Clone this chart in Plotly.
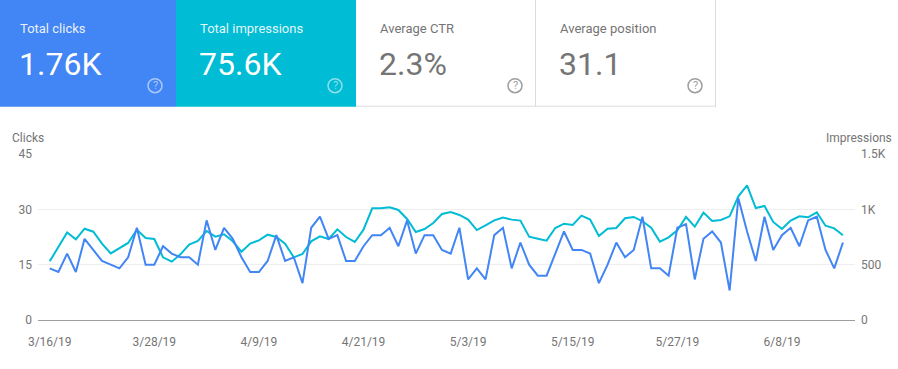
import plotly.graph_objects as go
import pandas as pd

start_date = "2019-03-16"
clicks = [14,13,18,13,22,19,16,15,14,17,25,15,15,20,18,17,17,15,27,19,25,22,17,13,13,16,23,16,17,10,
          25,28,22,23,16,16,20,23,23,25,20,27,18,23,23,19,18,25,11,14,11,23,25,14,21,15,12,12,18,24,19,19,18,10,
          15,21,17,19,28,14,14,12,25,26,11,22,24,21,8,33,24,16,28,19,23,25,20,27,28,19,14,21]
impressions = [530,665,790,729,825,798,690,602,648,696,816,741,732,566,527,593,681,714,804,753,774,711,617,690,720,771,750,690,566,596,
               711,756,732,819,750,705,816,1009,1009,1018,994,913,795,822,876,958,976,949,907,813,855,900,925,907,898,753,735,717,831,870,858,943,907,759,
               825,831,919,931,892,834,708,747,810,931,843,970,895,904,937,1117,1217,1012,1030,886,822,898,937,928,973,852,828,765]
dates = pd.date_range(start_date, periods=len(clicks))

x_tick_vals = ["2019-03-16","2019-03-28","2019-04-09","2019-04-21","2019-05-03","2019-05-15","2019-05-27","2019-06-08"]
x_tick_text = ["3/16/19","3/28/19","4/9/19","4/21/19","5/3/19","5/15/19","5/27/19","6/8/19"]
click_ticks = [0,15,30,45]
click_tick_text = ["0","15","30","45"]
imp_ticks = [0,500,1000,1500]
imp_tick_text = ["0","500","1K","1.5K"]

card_titles = ["Total clicks","Total impressions","Average CTR","Average position"]
card_values = ["1.76K","75.6K","2.3%","31.1"]
card_edges = [(0,176),(176,356),(356,536),(536,716)]
card_text_x = [18,198,378,558]
card_fills = ["#4285f4","#00bcd4","#ffffff","#ffffff"]

W, H = 898, 369
BLUE, TEAL, GREY = "#4285f4", "#00bcd4", "#757575"
L, R, T, B = 38, 855, 154.3, 320.3

fig = go.Figure()
fig.add_trace(go.Scatter(x=dates, y=impressions, mode="lines", yaxis="y", line=dict(color=TEAL, width=2), hoverinfo="skip"))
fig.add_trace(go.Scatter(x=dates, y=clicks, mode="lines", yaxis="y2", line=dict(color=BLUE, width=2), hoverinfo="skip"))

px = lambda v: (v - L) / (R - L)
py = lambda v: (B - v) / (B - T)
shapes, ann = [], []
for i, ((a, b), tx, fill, title, val) in enumerate(zip(card_edges, card_text_x, card_fills, card_titles, card_values)):
    colored = i < 2
    shapes.append(dict(type="rect", xref="paper", yref="paper", layer="below", x0=px(a), x1=px(b), y0=py(107), y1=py(0),
                       fillcolor=fill, line=dict(width=0)))
    if not colored:
        shapes.append(dict(type="line", xref="paper", yref="paper", x0=px(a), x1=px(b), y0=py(106.5), y1=py(106.5), line=dict(color="#dadce0", width=1)))
        shapes.append(dict(type="line", xref="paper", yref="paper", x0=px(b-0.5), x1=px(b-0.5), y0=py(107), y1=py(0), line=dict(color="#dadce0", width=1)))
    title_col = "rgba(255,255,255,0.9)" if colored else GREY
    val_col = "#ffffff" if colored else GREY
    ann.append(dict(text=title, x=px(tx), y=py(29), xref="paper", yref="paper", xanchor="left", yanchor="middle", showarrow=False,
                    font=dict(family="Roboto", size=13, color=title_col)))
    ann.append(dict(text=val, x=px(tx-1), y=py(64.5), xref="paper", yref="paper", xanchor="left", yanchor="middle", showarrow=False,
                    font=dict(family="Roboto", size=32, color=val_col)))
    cx, cy = b - 21, 86
    icon = "rgba(255,255,255,0.55)" if colored else "#9e9e9e"
    shapes.append(dict(type="circle", xref="paper", yref="paper", x0=px(cx-7), x1=px(cx+7), y0=py(cy+7), y1=py(cy-7),
                       line=dict(color=icon, width=1.5)))
    ann.append(dict(text="?", x=px(cx), y=py(cy), xref="paper", yref="paper", xanchor="center", yanchor="middle", showarrow=False,
                    font=dict(family="Roboto", size=11, color=icon)))

ann.append(dict(text="Clicks", x=px(10), y=py(138.5), xref="paper", yref="paper", xanchor="left", yanchor="middle", showarrow=False,
                font=dict(family="Roboto", size=12, color=GREY)))
ann.append(dict(text="Impressions", x=px(894), y=py(138.5), xref="paper", yref="paper", xanchor="right", yanchor="middle", showarrow=False,
                font=dict(family="Roboto", size=12, color=GREY)))

day_px = 8.717
first = pd.Timestamp(start_date)
x0 = first - pd.Timedelta(days=(49.7 - L) / day_px)
x1 = first + pd.Timedelta(days=(R - 49.7) / day_px)

fig.update_layout(
    width=W, height=H, autosize=False,
    margin=dict(l=L, r=W-R, t=T, b=H-B, pad=0),
    paper_bgcolor="#ffffff", plot_bgcolor="#ffffff", showlegend=False,
    font=dict(family="Roboto", size=12, color=GREY),
    shapes=shapes, annotations=ann,
    xaxis=dict(type="date", range=[x0, x1], tickmode="array", tickvals=x_tick_vals, ticktext=x_tick_text,
               showgrid=False, zeroline=False, showline=False, ticks="", ticklabelstandoff=13,
               tickfont=dict(family="Roboto", size=12, color=GREY)),
    yaxis=dict(range=[0, 1500], side="right", tickmode="array", tickvals=imp_ticks, ticktext=imp_tick_text,
               showgrid=True, gridcolor="#eeeeee", gridwidth=1, zeroline=True, zerolinecolor="#9e9e9e", zerolinewidth=1,
               showline=False, ticks="", ticklabelstandoff=5, tickfont=dict(family="Roboto", size=12, color=GREY)),
    yaxis2=dict(range=[0, 45], side="left", overlaying="y", tickmode="array", tickvals=click_ticks, ticktext=click_tick_text,
                showgrid=False, zeroline=False, showline=False, ticks="", ticklabelstandoff=5,
                tickfont=dict(family="Roboto", size=12, color=GREY)),
)
fig.write_html("out.html", config=dict(displayModeBar=False),
               post_script="document.body.style.margin='0';document.documentElement.style.overflow='hidden';")
